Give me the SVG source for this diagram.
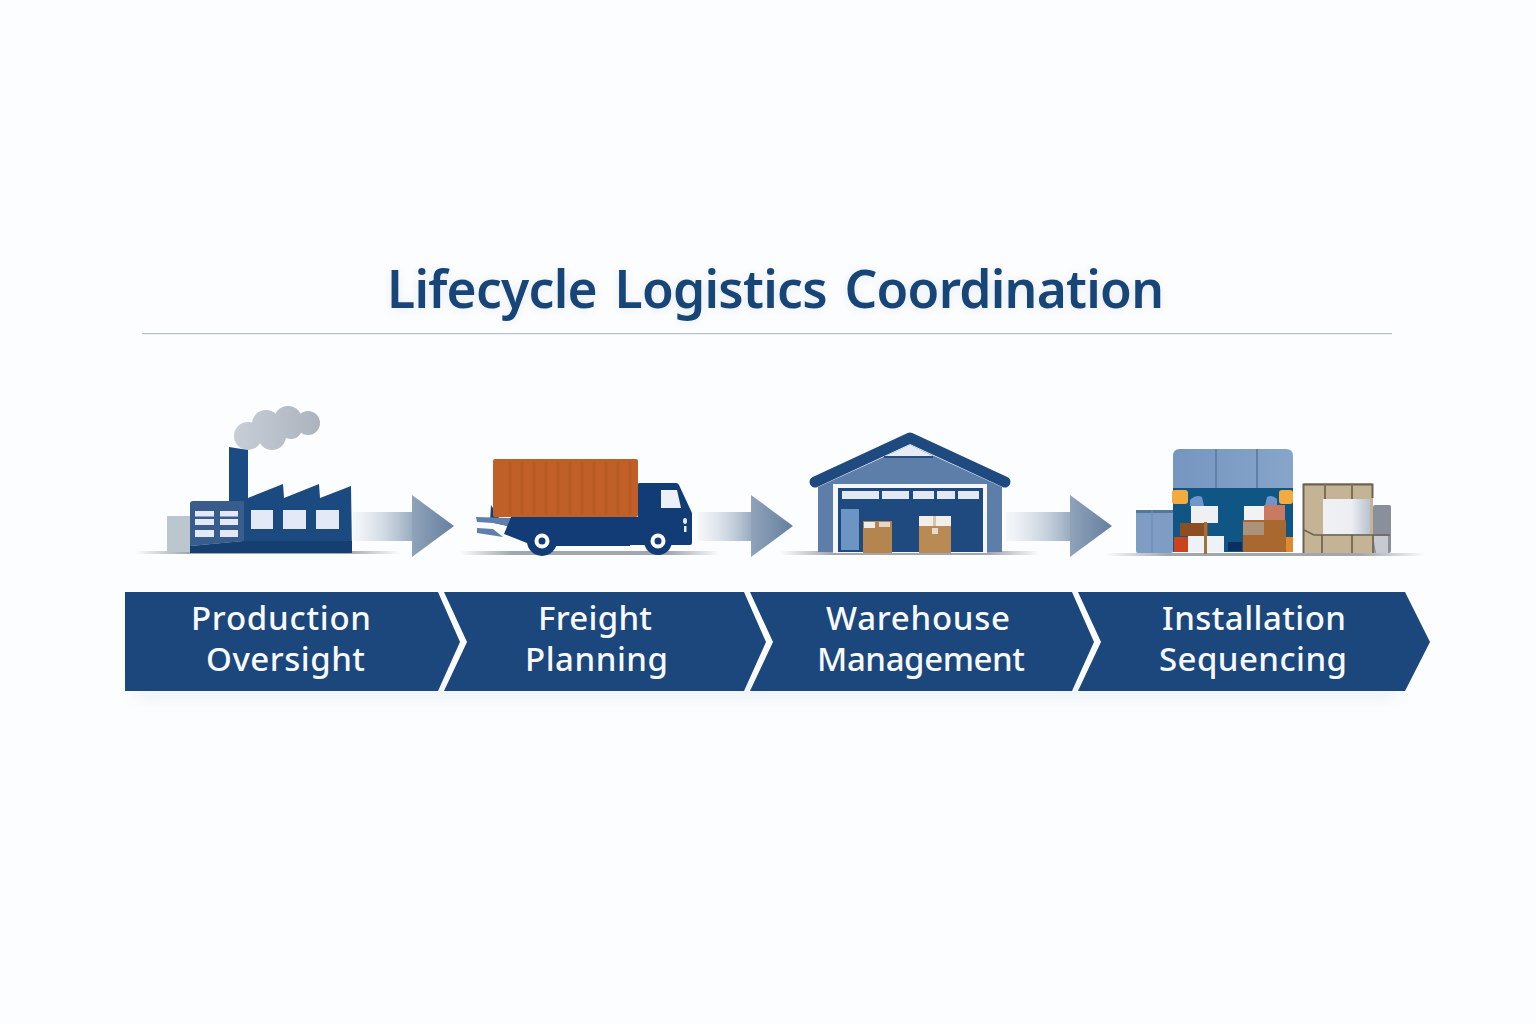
<svg xmlns="http://www.w3.org/2000/svg" width="1536" height="1024" viewBox="0 0 1536 1024">
<style>
.title{font-family:"Noto Sans","Open Sans",sans-serif;font-size:51.500px;font-weight:600;fill:#174578;word-spacing:5px}
.lab{font-family:"Noto Sans","Open Sans",sans-serif;font-size:33px;font-weight:500;fill:#f7f9fc;text-anchor:start}
.chev{fill:#1b477c}
.navy{fill:#1b4a80}
.win{fill:#e3e9f6}
</style>
<defs>
<linearGradient id="shaft" x1="0" x2="1" y1="0" y2="0"><stop offset="0" stop-color="#e9edf2" stop-opacity=".4"/><stop offset="1" stop-color="#9aacc1"/></linearGradient>
<linearGradient id="head" x1="0" x2="1" y1="0" y2="0"><stop offset="0" stop-color="#8fa3ba"/><stop offset="1" stop-color="#667f9f"/></linearGradient>
<linearGradient id="ground" x1="0" x2="1" y1="0" y2="0"><stop offset="0" stop-color="#8a919b" stop-opacity="0"/><stop offset=".2" stop-color="#8a919b" stop-opacity=".8"/><stop offset=".8" stop-color="#8a919b" stop-opacity=".8"/><stop offset="1" stop-color="#8a919b" stop-opacity="0"/></linearGradient>
<linearGradient id="smoke" gradientUnits="userSpaceOnUse" x1="235" x2="320" y1="0" y2="0"><stop offset="0" stop-color="#c8ced6"/><stop offset="1" stop-color="#abb3be"/></linearGradient>
<linearGradient id="sheen" x1="0" x2="1" y1="0" y2="0"><stop offset="0" stop-color="#eef0f3"/><stop offset=".6" stop-color="#eceef2"/><stop offset="1" stop-color="#b9c2cf"/></linearGradient>
<linearGradient id="roofblue" x1="0" x2="1" y1="0" y2="0"><stop offset="0" stop-color="#7596c0"/><stop offset="1" stop-color="#87a5c9"/></linearGradient>
<filter id="soft" x="-5%" y="-60%" width="110%" height="220%"><feGaussianBlur stdDeviation="8"/></filter>
<filter id="tblur" x="-5%" y="-30%" width="110%" height="170%"><feGaussianBlur stdDeviation="5"/></filter>
</defs>
<rect width="1536" height="1024" fill="#fcfdfe"/>
<g id="title">
<text class="title" x="387" y="309" opacity=".1" filter="url(#tblur)" textLength="777">Lifecycle Logistics Coordination</text>
<text class="title" x="387" y="308" textLength="777">Lifecycle Logistics Coordination</text>
<rect x="142" y="333" width="1250" height="1.200" fill="#b6c0ca"/>
</g>
<g id="shadows">
<rect x="135" y="551" width="265" height="3" fill="url(#ground)"/>
<rect x="460" y="551" width="260" height="4" fill="url(#ground)"/>
<rect x="780" y="551" width="260" height="4" fill="url(#ground)"/>
<rect x="1105" y="553" width="320" height="3" fill="url(#ground)"/>
</g>
<g id="connectors">
<g><rect x="353" y="512" width="59" height="29" fill="url(#shaft)"/><polygon points="412,495 454,526 412,557" fill="url(#head)"/></g>
<g><rect x="698" y="512" width="53" height="29" fill="url(#shaft)"/><polygon points="751,495 793,526 751,557" fill="url(#head)"/></g>
<g><rect x="1006" y="512" width="64" height="29" fill="url(#shaft)"/><polygon points="1070,495 1112,526 1070,557" fill="url(#head)"/></g>
</g>
<g id="factory">
<g fill="url(#smoke)"><circle cx="248" cy="436" r="14"/><circle cx="266" cy="424" r="14"/><circle cx="288" cy="420" r="14"/><circle cx="308" cy="423" r="12"/><circle cx="272" cy="436" r="14"/><circle cx="291" cy="428" r="11"/></g>
<rect x="167" y="516" width="24" height="36" fill="#bcc6ce"/>
<polygon points="229,447 248,450 248,502 229,502" fill="#1a4b82"/>
<polygon class="navy" points="248,498 283,484 284,498 319,484 320,498 351,486 352,553 243,553 243,498"/>
<rect x="243" y="541" width="109" height="12" fill="#163f71"/>
<path d="M193 501H244V541L190 546V504Q190 501 193 501Z" fill="#385c8b"/>
<path d="M190 546L243 541H244V553H190Z" fill="#163f71"/>
<g class="win">
<rect x="195" y="511" width="19" height="5.500"/><rect x="220" y="511" width="18" height="5.500"/>
<rect x="195" y="519" width="19" height="6"/><rect x="220" y="519" width="18" height="6"/>
<rect x="195" y="530" width="19" height="7"/><rect x="220" y="530" width="18" height="7"/>
<rect x="251" y="510" width="22" height="19"/><rect x="283" y="510" width="23" height="19"/><rect x="316" y="510" width="23" height="19"/>
</g>
</g>
<g id="truck">
<path d="M491 505L499 518H512V527L490 522Z" fill="#123f7a"/>
<polygon points="476,517 512,518 512,527 493,523 477,522" fill="#5f80ac"/>
<polygon points="477,528 493,529 503,537 477,533" fill="#5f80ac"/>
<rect x="493" y="459" width="145" height="58" rx="2" fill="#c05f27"/>
<g stroke="#a9511f" stroke-width="3" opacity=".35"><path d="M510 461V515M522 461V515M534 461V515M546 461V515M558 461V515M570 461V515M582 461V515M594 461V515M606 461V515M618 461V515M630 461V515"/></g>
<path d="M511 517H638V484Q638 483 640 483H676Q678 483 679 485L692 513V543Q692 545 690 545H630V546H552L527 543L504 534Z" fill="#113c76"/>
<polygon points="661,490 677,490 681,508 661,508" fill="#edf1f7"/>
<ellipse cx="685" cy="521" rx="2" ry="3" fill="#e6ebf2"/><rect x="684" y="526" width="2.500" height="6" fill="#e6ebf2"/>
<circle cx="542" cy="541" r="15" fill="#113c76"/><circle cx="542" cy="541" r="7.500" fill="#fff"/><circle cx="542" cy="541" r="3.500" fill="#113c76"/>
<circle cx="658" cy="541" r="14" fill="#113c76"/><circle cx="658" cy="541" r="7.500" fill="#fff"/><circle cx="658" cy="541" r="3.500" fill="#113c76"/>
</g>
<g id="warehouse">
<polygon points="818,487 910,445 1002,487 1002,552 818,552" fill="#5d7ea9"/>
<polygon points="886,456 910,445 933,456" fill="#e7ebf3"/>
<rect x="884" y="456" width="49" height="2" fill="#274f83"/>
<path d="M815 482L910 438L1005 482" fill="none" stroke="#1f4a80" stroke-width="11" stroke-linecap="round" stroke-linejoin="round"/>
<rect x="833" y="484" width="154" height="69" fill="#f4f6f9"/>
<rect x="838" y="488" width="145" height="64" fill="#1f4a80"/>
<g fill="#e3e9f2"><rect x="842" y="491" width="37" height="8"/><rect x="882" y="491" width="27" height="8"/><rect x="913" y="491" width="21" height="8"/><rect x="937" y="491" width="18" height="8"/><rect x="958" y="491" width="21" height="8"/></g>
<rect x="841" y="509" width="18" height="41" fill="#6d95c4"/>
<rect x="863" y="521" width="29" height="32" fill="#b5854f"/>
<rect x="864" y="522" width="11" height="6" fill="#f0ece6"/><rect x="879" y="522" width="11" height="5" fill="#e6d8c5"/>
<rect x="919" y="516" width="32" height="37" fill="#b98a54"/>
<rect x="919" y="516" width="32" height="10" fill="#f2efe9"/>
<rect x="933" y="516" width="3" height="10" fill="#d4c5b0"/>
<rect x="932" y="528" width="6" height="6" fill="#e6dccd"/>
</g>
<g id="installation">
<rect x="1136" y="510" width="37" height="43" rx="2" fill="#7f9dc4"/>
<rect x="1136" y="510" width="37" height="3" fill="#55779f"/>
<path d="M1152 510V553" stroke="#6d8db6" stroke-width="1"/>
<path d="M1173 488V456Q1173 449 1180 449H1286Q1293 449 1293 456V488Z" fill="url(#roofblue)"/>
<path d="M1216 449V488M1257 449V488" stroke="#5f80a9" stroke-width="2"/>
<rect x="1173" y="488" width="120" height="64" fill="#0f5685"/>
<rect x="1172" y="490" width="16" height="14" rx="3" fill="#f2ab3c"/><rect x="1279" y="490" width="14" height="14" rx="3" fill="#f2ab3c"/>
<path d="M1190 506V500Q1196 494 1202 497L1204 506Z" fill="#6f95c9"/><path d="M1265 506L1267 497Q1272 494 1277 499V506Z" fill="#6f95c9"/>
<rect x="1180" y="523" width="28" height="13" fill="#8d4f22"/>
<rect x="1174" y="537" width="15" height="15" fill="#c9431f"/>
<rect x="1191" y="506" width="27" height="17" fill="#eef0f3"/>
<rect x="1188" y="536" width="36" height="16" fill="#eef1f6"/>
<rect x="1204" y="522" width="3" height="32" fill="#a0703f"/>
<rect x="1244" y="506" width="21" height="17" fill="#f1f2f4"/>
<rect x="1264" y="505" width="21" height="19" fill="#cb7a62"/>
<rect x="1243" y="520" width="43" height="32" rx="1" fill="#a9682f"/>
<rect x="1243" y="522" width="21" height="13" fill="#ab927a"/>
<rect x="1286" y="537" width="7" height="15" fill="#e08a2e"/>
<rect x="1228" y="542" width="14" height="9" fill="#0b2f5f"/>
<rect x="1373" y="505" width="18" height="48" rx="2" fill="#8a909b"/>
<path d="M1373 536H1388V553H1376Z" fill="#c6cbd2"/>
<rect x="1303" y="483" width="70" height="70" rx="2" fill="#c4b394"/>
<path d="M1303.500 553V484.500H1372.500V498" fill="none" stroke="#6b6356" stroke-width="2"/>
<path d="M1325 484V500M1352 484V500M1322 535V553M1352 535V553M1373 535V553" stroke="#7a6f5b" stroke-width="2"/>
<path d="M1304 530L1314 535H1390" fill="none" stroke="#6b6356" stroke-width="1.500"/>
<rect x="1323" y="499" width="47" height="35" fill="url(#sheen)"/>
</g>
<g id="banner-shadow"><rect x="135" y="684" width="1260" height="14" fill="#c3cfdf" opacity=".3" filter="url(#soft)"/></g>
<g id="step-1">
<polygon class="chev" points="125,592 438,592 460,642 438,691 125,691"/>
<text class="lab" x="191" y="630" textLength="180">Production</text>
<text class="lab" x="206" y="671" textLength="159">Oversight</text>
</g>
<g id="step-2">
<polygon class="chev" points="444,592 744,592 766,642 744,691 444,691 467,642"/>
<text class="lab" x="538" y="630" textLength="114">Freight</text>
<text class="lab" x="525" y="671" textLength="143">Planning</text>
</g>
<g id="step-3">
<polygon class="chev" points="750,592 1072,592 1094,642 1072,691 750,691 773,642"/>
<text class="lab" x="826" y="630" textLength="184">Warehouse</text>
<text class="lab" x="817" y="671" textLength="208">Management</text>
</g>
<g id="step-4">
<polygon class="chev" points="1078,592 1405,592 1430,642 1405,691 1078,691 1101,642"/>
<text class="lab" x="1162" y="630" textLength="184">Installation</text>
<text class="lab" x="1159" y="671" textLength="188">Sequencing</text>
</g>
</svg>
